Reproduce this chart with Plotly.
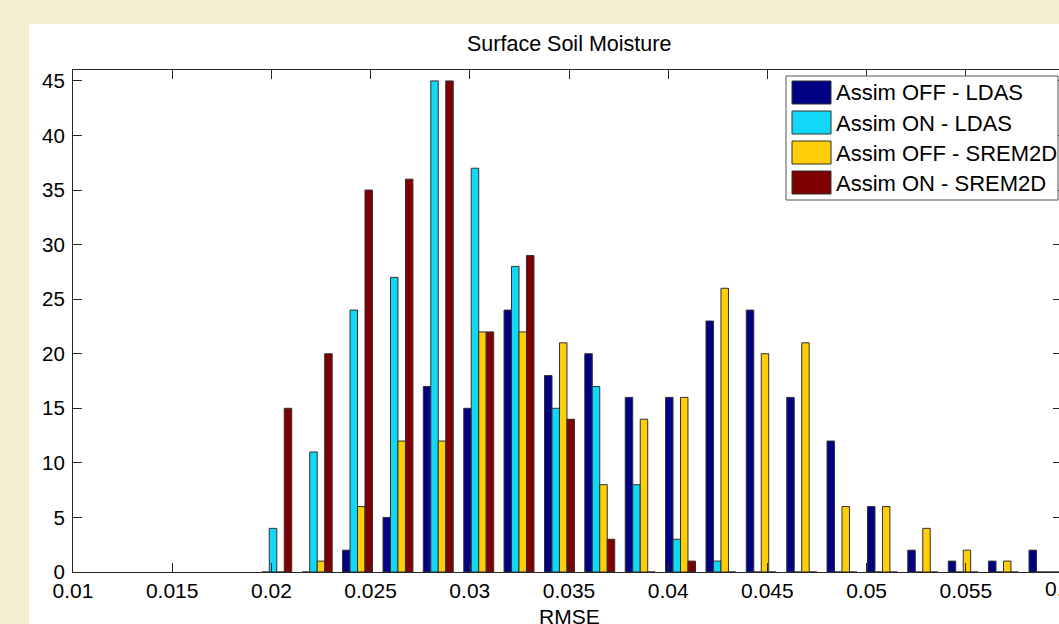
import plotly.graph_objects as go

# ---------------- data ----------------
bin_centers = [0.02027, 0.02231, 0.02434, 0.02638, 0.02841, 0.03045, 0.03248,
               0.03452, 0.03655, 0.03859, 0.04062, 0.04266, 0.04469, 0.04673,
               0.04876, 0.05080, 0.05283, 0.05487, 0.05690, 0.05894]
off_ldas = [0, 0, 2, 5, 17, 15, 24, 18, 20, 16, 16, 23, 24, 16, 12, 6, 2, 1, 1, 2]
on_ldas = [4, 11, 24, 27, 45, 37, 28, 15, 17, 8, 3, 1, 0, 0, 0, 0, 0, 0, 0, 0]
off_srem = [0, 1, 6, 12, 12, 22, 22, 21, 8, 14, 16, 26, 20, 21, 6, 6, 4, 2, 1, 0]
on_srem = [15, 20, 35, 36, 45, 22, 29, 14, 3, 0, 1, 0, 0, 0, 0, 0, 0, 0, 0, 0]

series_names = ["Assim OFF - LDAS", "Assim ON - LDAS",
                "Assim OFF - SREM2D", "Assim ON - SREM2D"]
series_values = [off_ldas, on_ldas, off_srem, on_srem]
series_colors = ["#000084", "#10D8F6", "#FFCE08", "#7E0000"]

x_tickvals = [0.01, 0.015, 0.02, 0.025, 0.03, 0.035, 0.04, 0.045, 0.05, 0.055, 0.06]
x_ticktext = ["0.01", "0.015", "0.02", "0.025", "0.03", "0.035", "0.04",
              "0.045", "0.05", "0.055", "0.06"]
y_tickvals = [0, 5, 10, 15, 20, 25, 30, 35, 40, 45]

title_text = "Surface Soil Moisture"
xlabel_text = "RMSE"

# ---------------- layout geometry ----------------
W, H = 1059, 624
ML, MT, MB, MR = 73, 70, 52, 0
PW, PH = W - ML - MR, H - MT - MB
X0 = 0.01
X_PER_PX = 0.005 / 99.2
X1 = X0 + PW * X_PER_PX
Y_RANGE = [0, 46]


def px_x(p):
    return (p - ML) / PW


def px_y(p):
    return (H - MB - p) / PH


FONT = "Liberation Sans, Arial, Helvetica, sans-serif"
AXC = "#262626"
TICK_SIZE = 21

fig = go.Figure()
for name, vals, col in zip(series_names, series_values, series_colors):
    fig.add_trace(go.Bar(
        x=bin_centers, y=vals, name=name,
        marker=dict(color=col, line=dict(color="#303030", width=1)),
        showlegend=False,
    ))

# dummy trace for mirrored top/right tick axes
fig.add_trace(go.Scatter(x=[None], y=[None], xaxis="x2", yaxis="y2",
                         showlegend=False, hoverinfo="skip"))

shapes = [
    # white figure panel over the parchment background
    dict(type="rect", xref="paper", yref="paper",
         x0=px_x(29), x1=px_x(W + 5), y0=px_y(24), y1=px_y(H + 5),
         fillcolor="white", line=dict(width=0), layer="below"),
]

# manual legend
leg_x0, leg_x1, leg_y0, leg_y1 = 786, 1058, 76, 200
shapes.append(dict(type="rect", xref="paper", yref="paper",
                   x0=px_x(leg_x0), x1=px_x(leg_x1),
                   y0=px_y(leg_y0), y1=px_y(leg_y1),
                   fillcolor="white", line=dict(color="#555555", width=1),
                   layer="above"))
annotations = []
row_tops = [81, 111, 141, 171]
for top, name, col in zip(row_tops, series_names, series_colors):
    shapes.append(dict(type="rect", xref="paper", yref="paper",
                       x0=px_x(792), x1=px_x(831),
                       y0=px_y(top), y1=px_y(top + 23),
                       fillcolor=col, line=dict(color="#303030", width=1),
                       layer="above"))
    annotations.append(dict(text=name, xref="paper", yref="paper",
                            x=px_x(834), y=px_y(top + 12),
                            xanchor="left", yanchor="middle", showarrow=False,
                            font=dict(family=FONT, size=22, color="black")))

# title and x label
annotations.append(dict(text=title_text, xref="paper", yref="paper",
                        x=px_x(569), y=px_y(44), xanchor="center", yanchor="middle",
                        showarrow=False, font=dict(family=FONT, size=21.5, color="black")))
annotations.append(dict(text=xlabel_text, xref="paper", yref="paper",
                        x=(0.035 - X0) / (X1 - X0), y=px_y(616),
                        xanchor="center", yanchor="middle",
                        showarrow=False, font=dict(family=FONT, size=21, color="black")))
# clipped last tick label (0.06 lies just outside the visible window)
annotations.append(dict(text=x_ticktext[-1], xref="paper", yref="paper",
                        x=(x_tickvals[-1] - X0) / (X1 - X0), y=px_y(588),
                        xanchor="center", yanchor="middle",
                        showarrow=False, font=dict(family=FONT, size=TICK_SIZE, color="black")))

fig.update_layout(
    width=W, height=H,
    margin=dict(l=ML, r=MR, t=MT, b=MB, pad=0),
    paper_bgcolor="#F4EED1",
    plot_bgcolor="white",
    barmode="group", bargap=0.257, bargroupgap=0,
    shapes=shapes, annotations=annotations,
    font=dict(family=FONT, size=TICK_SIZE, color="black"),
    xaxis=dict(range=[X0, X1], tickvals=x_tickvals[:-1], ticktext=x_ticktext[:-1],
               ticks="inside", ticklen=9, tickcolor=AXC, tickwidth=1,
               showline=True, linecolor=AXC, linewidth=1, showgrid=False,
               zeroline=False, tickfont=dict(family=FONT, size=TICK_SIZE, color="black")),
    yaxis=dict(range=Y_RANGE, tickvals=y_tickvals,
               ticks="inside", ticklen=9, tickcolor=AXC, tickwidth=1,
               showline=True, linecolor=AXC, linewidth=1, showgrid=False,
               zeroline=False, ticklabelstandoff=3,
               tickfont=dict(family=FONT, size=20.5, color="black")),
    xaxis2=dict(overlaying="x", matches="x", side="top", anchor="y2",
                tickvals=x_tickvals[:-1], showticklabels=False,
                ticks="inside", ticklen=9, tickcolor=AXC, tickwidth=1,
                showline=True, linecolor=AXC, linewidth=1, showgrid=False,
                zeroline=False),
    yaxis2=dict(overlaying="y", matches="y", side="right", anchor="x2",
                tickvals=y_tickvals, showticklabels=False,
                ticks="inside", ticklen=6, tickcolor=AXC, tickwidth=1,
                showline=False, showgrid=False, zeroline=False),
)

fig.write_html("out.html")
